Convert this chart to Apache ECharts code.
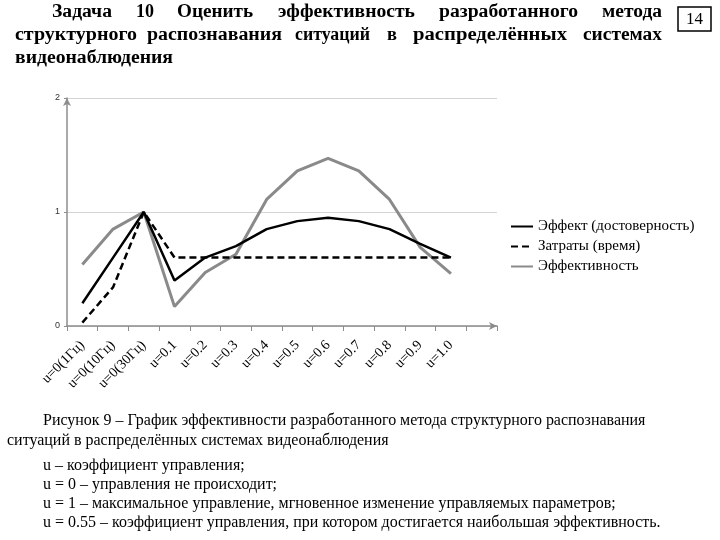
<!DOCTYPE html>
<html>
<head>
<meta charset="utf-8">
<script src="https://cdn.jsdelivr.net/npm/echarts@6/dist/echarts.min.js"></script>
<style>html,body{margin:0;padding:0;background:#fff}#c{width:720px;height:540px}</style>
</head>
<body>
<div id="c"></div>
<script>
var categories = ['u=0(1Гц)','u=0(10Гц)','u=0(30Гц)','u=0.1','u=0.2','u=0.3','u=0.4','u=0.5','u=0.6','u=0.7','u=0.8','u=0.9','u=1.0'];
var effect = [0.2, 0.6, 1.0, 0.4, 0.6, 0.7, 0.85, 0.92, 0.95, 0.92, 0.85, 0.72, 0.6];
var cost = [0.03, 0.34, 1.0, 0.6, 0.6, 0.6, 0.6, 0.6, 0.6, 0.6, 0.6, 0.6, 0.6];
var efficiency = [0.54, 0.85, 1.0, 0.17, 0.47, 0.63, 1.11, 1.36, 1.47, 1.36, 1.11, 0.69, 0.46];
var seriesNames = ['Эффект (достоверность)', 'Затраты (время)', 'Эффективность'];
var yTicks = [0, 1, 2];

var chart = echarts.init(document.getElementById('c'), null, {renderer: 'canvas'});
var serif = '"Liberation Serif", "Times New Roman", serif';
var ctx = document.createElement('canvas').getContext('2d');
function measure(text, font) { ctx.font = font; return ctx.measureText(text).width; }

var titleFont = 'bold 18px ' + serif;
var titleWords = [
  [['Задача',52,112],['10',136,154],['Оценить',177,253],['эффективность',278,415],['разработанного',439,578],['метода',602,662]],
  [['структурного',15,137],['распознавания',147,282],['ситуаций',295,370],['в',387,397],['распределённых',413,567],['системах',583,662]],
  [['видеонаблюдения',15,173]]
];
var titleY = [12, 35, 58];
var graphics = [];
titleWords.forEach(function (line, li) {
  line.forEach(function (w) {
    var s = (w[2] - w[1]) / measure(w[0], titleFont);
    graphics.push({type: 'text', x: w[1], y: titleY[li], scaleX: s,
      style: {text: w[0], x: 0, y: 0, fill: '#000', font: titleFont, textVerticalAlign: 'middle'}});
  });
});
graphics.push({type: 'rect', shape: {x: 678, y: 7, width: 33, height: 24}, style: {fill: '#fff', stroke: '#000', lineWidth: 1.5}});
graphics.push({type: 'text', x: 694.5, y: 19.5, style: {text: '14', x: 0, y: 0, fill: '#000', font: '17px ' + serif, textAlign: 'center', textVerticalAlign: 'middle'}});
var captions = [
  ['Рисунок 9 – График эффективности разработанного метода структурного распознавания', 43, 421],
  ['ситуаций в распределённых системах видеонаблюдения', 7, 441],
  ['u – коэффициент управления;', 43, 466],
  ['u = 0 – управления не происходит;', 43, 485],
  ['u = 1 – максимальное управление, мгновенное изменение управляемых параметров;', 43, 504],
  ['u = 0.55 – коэффициент управления, при котором достигается наибольшая эффективность.', 43, 523]
];
captions.forEach(function (c) {
  graphics.push({type: 'text', x: c[1], y: c[2], scaleX: 0.94,
    style: {text: c[0], x: 0, y: 0, fill: '#000', font: '17px ' + serif, textVerticalAlign: 'middle'}});
});

var option = {
  backgroundColor: '#fff',
  animation: false,
  grid: {left: 67, right: 223, top: 98, bottom: 214, outerBoundsMode: 'none', containLabel: false},
  legend: {
    orient: 'vertical', left: 505, top: 214, itemWidth: 22, itemHeight: 14, itemGap: 5,
    itemStyle: {opacity: 0},
    textStyle: {fontFamily: serif, fontSize: 15, color: '#000'},
    data: seriesNames
  },
  xAxis: {
    type: 'category', boundaryGap: true,
    data: categories.concat(['']),
    axisLine: {show: true, symbol: ['none', 'arrow'], symbolSize: [6, 8], lineStyle: {color: '#8c8c8c', width: 1.5}},
    axisTick: {show: true, length: 5, lineStyle: {color: '#8c8c8c'}},
    axisLabel: {rotate: 45, margin: 17, interval: 0, fontFamily: serif, fontSize: 14, color: '#000'},
    splitLine: {show: false}
  },
  yAxis: {
    type: 'value', min: yTicks[0], max: yTicks[yTicks.length - 1], interval: 1,
    axisLine: {show: true, symbol: ['none', 'arrow'], symbolSize: [6, 8], lineStyle: {color: '#8c8c8c', width: 1.5}},
    axisTick: {show: true, length: 3, lineStyle: {color: '#8c8c8c'}},
    axisLabel: {fontSize: 9, color: '#333', margin: 7, fontFamily: 'Liberation Sans'},
    splitLine: {show: true, lineStyle: {color: '#d4d4d4', width: 1}}
  },
  series: [
    {name: seriesNames[0], type: 'line', data: effect, symbol: 'none', lineStyle: {color: '#000', width: 2.5}, itemStyle: {color: '#000'}, z: 4},
    {name: seriesNames[1], type: 'line', data: cost, symbol: 'none', lineStyle: {color: '#000', width: 2.5, type: [7, 4]}, itemStyle: {color: '#000'}, z: 3},
    {name: seriesNames[2], type: 'line', data: efficiency, symbol: 'none', lineStyle: {color: '#8a8a8a', width: 3}, itemStyle: {color: '#8a8a8a'}, z: 2}
  ],
  graphic: graphics
};
chart.setOption(option);
</script>
</body>
</html>
